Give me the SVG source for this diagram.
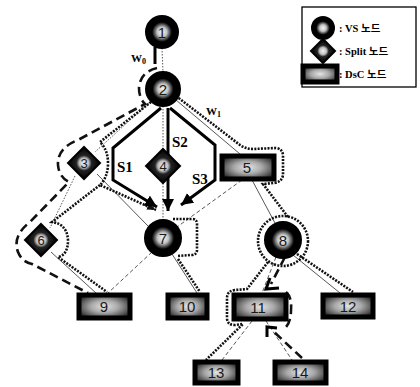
<svg xmlns="http://www.w3.org/2000/svg" width="420" height="387" viewBox="0 0 420 387">
<defs>
<radialGradient id="gc" cx="0.5" cy="0.5" r="0.5">
<stop offset="0" stop-color="#f6f6f6"/>
<stop offset="0.3" stop-color="#c4c4c4"/>
<stop offset="0.52" stop-color="#3a3a3a"/>
<stop offset="0.62" stop-color="#000"/>
<stop offset="1" stop-color="#000"/>
</radialGradient>
<radialGradient id="gr" cx="0.5" cy="0.5" r="0.6">
<stop offset="0" stop-color="#e4e4e4"/>
<stop offset="0.45" stop-color="#a8a8a8"/>
<stop offset="0.8" stop-color="#555"/>
<stop offset="1" stop-color="#222"/>
</radialGradient>
<radialGradient id="gd" cx="0.5" cy="0.5" r="0.5">
<stop offset="0" stop-color="#f4f4f4"/>
<stop offset="0.3" stop-color="#bbb"/>
<stop offset="0.48" stop-color="#222"/>
<stop offset="1" stop-color="#000"/>
</radialGradient>
<marker id="ah" markerUnits="userSpaceOnUse" markerWidth="12" markerHeight="12" refX="10" refY="5" orient="auto" viewBox="0 0 10 10">
<path d="M0,0 L10,5 L0,10 z" fill="#000"/>
</marker>
<marker id="ahd" markerUnits="userSpaceOnUse" markerWidth="9" markerHeight="9" refX="10" refY="5" orient="auto" viewBox="0 0 10 10">
<path d="M0,1 L10,5 L0,9 z" fill="#111"/>
</marker>
<style>
.c{fill:url(#gc);stroke:#000;stroke-width:2}
.d{fill:url(#gd);stroke:#000;stroke-width:2}
.r{fill:url(#gr);stroke:#000;stroke-width:5}
.n{font-family:"Liberation Sans",Arial,sans-serif;font-size:15px;fill:#1a1a1a;text-anchor:middle}
.nd{font-size:13px}
.thin{stroke:#444;stroke-width:0.9;fill:none}
.dot{stroke-dasharray:1.5 1.5}
.dsh{stroke-dasharray:4 2.5}
.hd{stroke:#111;stroke-width:2.6;stroke-dasharray:2 1.3;fill:none}
.ld{stroke:#111;stroke-width:2.6;stroke-dasharray:9 5;fill:none}
.s{stroke:#000;stroke-width:3;fill:none}
.lb{font-family:"Liberation Serif","Times New Roman",serif;font-weight:bold;fill:#000}
.lg{font-family:"Liberation Serif","Noto Sans CJK KR",serif;font-weight:bold;font-size:10.5px;fill:#000}
</style>
</defs>
<rect width="420" height="387" fill="#fff"/>

<g id="connectors">
<line class="thin dot" x1="162" y1="48" x2="163" y2="72"/>
<line class="thin dot" x1="151" y1="101" x2="95" y2="152"/>
<line class="thin dot" x1="163" y1="106" x2="163" y2="149"/>
<line class="thin" x1="176" y1="100" x2="240" y2="154"/>
<line class="thin" x1="97" y1="174" x2="149" y2="227"/>
<line class="thin dot" x1="75" y1="176" x2="50" y2="228"/>
<line class="thin dot" x1="163" y1="183" x2="163" y2="220"/>
<line class="thin dsh" x1="242" y1="180" x2="177" y2="227"/>
<line class="thin" x1="252" y1="180" x2="275" y2="223"/>
<line class="thin" x1="51" y1="252" x2="96" y2="293"/>
<line class="thin dsh" x1="152" y1="252" x2="108" y2="293"/>
<line class="thin" x1="172" y1="254" x2="197" y2="293"/>
<line class="thin dsh" x1="276" y1="257" x2="262" y2="293"/>
<line class="thin" x1="293" y1="255" x2="340" y2="293"/>
<line class="thin dsh" x1="252" y1="321" x2="222" y2="360"/>
<line class="thin dsh" x1="266" y1="321" x2="292" y2="360"/>

<line class="s" x1="155" y1="47" x2="155" y2="64"/>

<path class="hd" d="M176,96 L240,145 Q246,149 253,149 L276,148 Q283,149 283,156 L283,175 Q282,182 274,183 L263,184 L288,217"/>
<circle class="hd" cx="283" cy="241" r="25"/>
<path class="hd" d="M268,262 L247,289 L235,290 Q227,291 227,298 L227,318 Q227,325 235,325 L243,324 L206,360"/>
<path class="hd" d="M297,254 L353,292"/>

<path class="hd" d="M151,102 L100,142 Q108,150 108,163 Q108,177 100,185 L156,210" marker-end="url(#ahd)"/>
<path class="hd" d="M100,185 L52,222 Q67,224 68,240 Q68,255 58,257 L107,292"/>
<path class="hd" d="M173,219 L192,219 Q197,219 197,224 L197,250 Q197,255 191,255 L177,256"/>
<path class="hd" d="M178,259 L200,292"/>

<path class="ld" d="M157,68 Q140,72 139,88 Q139,98 145,104 L78,140 Q57,148 58,165 Q59,177 69,182 L30,222 Q12,236 18,252 Q22,262 32,264 L88,293"/>
<path class="ld" d="M285,257 L271,284"/>
<path class="s" d="M270,278 L266,289 L279,288" stroke-width="2.4"/>
<path class="ld" d="M302,358 L273,331"/>
<path class="s" d="M267,337 L267,327 L277,328" stroke-width="2.4"/>
<path class="ld" d="M286,292 Q292,297 291,310 Q291,321 286,327" stroke-dasharray="7 4"/>

<path class="s" d="M161,108 L113,148 L113,180 L157,207" marker-end="url(#ah)"/>
<path class="s" d="M168,108 L168,211" marker-end="url(#ah)"/>
<path class="s" d="M170,108 L215,145 L215,180 L181,205" marker-end="url(#ah)"/>
</g>

<g id="labels">
<text class="lb" x="131" y="62" font-size="11">W<tspan font-size="8" dy="2">0</tspan></text>
<text class="lb" x="206" y="115" font-size="11">W<tspan font-size="8" dy="2">1</tspan></text>
<text class="lb" x="117" y="172" font-size="15">S1</text>
<text class="lb" x="172" y="147" font-size="15">S2</text>
<text class="lb" x="192" y="184" font-size="15">S3</text>
</g>

<g id="n1"><circle class="c" cx="162" cy="32" r="16"/><text class="n" x="162" y="38">1</text></g>
<g id="n2"><circle class="c" cx="163" cy="89" r="17"/><text class="n" x="163" y="95">2</text></g>
<g id="n3"><polygon class="d" points="84,147 100,163 84,179 68,163"/><text class="n nd" x="84" y="168">3</text></g>
<g id="n4"><polygon class="d" points="163,149 180,166 163,183 146,166"/><text class="n nd" x="163" y="171">4</text></g>
<g id="n5"><rect class="r" x="222" y="156" width="52" height="23"/><text class="n" x="247" y="173">5</text></g>
<g id="n6"><polygon class="d" points="41,224 57,240 41,256 25,240"/><text class="n nd" x="41" y="245">6</text></g>
<g id="n7"><circle class="c" cx="163" cy="238" r="18"/><text class="n" x="163" y="244">7</text></g>
<g id="n8"><circle class="c" cx="283" cy="240" r="18"/><text class="n" x="283" y="246">8</text></g>
<g id="n9"><rect class="r" x="79" y="295" width="51" height="23"/><text class="n" x="104" y="312">9</text></g>
<g id="n10"><rect class="r" x="168" y="295" width="39" height="23"/><text class="n" x="187" y="312">10</text></g>
<g id="n11"><rect class="r" x="234" y="295" width="52" height="24"/><text class="n" x="258" y="313">11</text></g>
<g id="n12"><rect class="r" x="323" y="295" width="50" height="22"/><text class="n" x="348" y="312">12</text></g>
<g id="n13"><rect class="r" x="195" y="362" width="43" height="21"/><text class="n" x="216" y="378">13</text></g>
<g id="n14"><rect class="r" x="275" y="362" width="51" height="21"/><text class="n" x="300" y="378">14</text></g>

<g id="legend">
<rect x="302" y="7" width="114" height="80" fill="#fff" stroke="#000" stroke-width="1.3"/>
<circle class="c" cx="323" cy="28" r="11"/>
<polygon class="d" points="323,39 335,51 323,63 311,51"/>
<rect class="r" x="303" y="66" width="34" height="16"/>
<text class="lg" x="339" y="32">: VS 노드</text>
<text class="lg" x="339" y="55">: Split 노드</text>
<text class="lg" x="339" y="78">: DsC 노드</text>
</g>
</svg>
